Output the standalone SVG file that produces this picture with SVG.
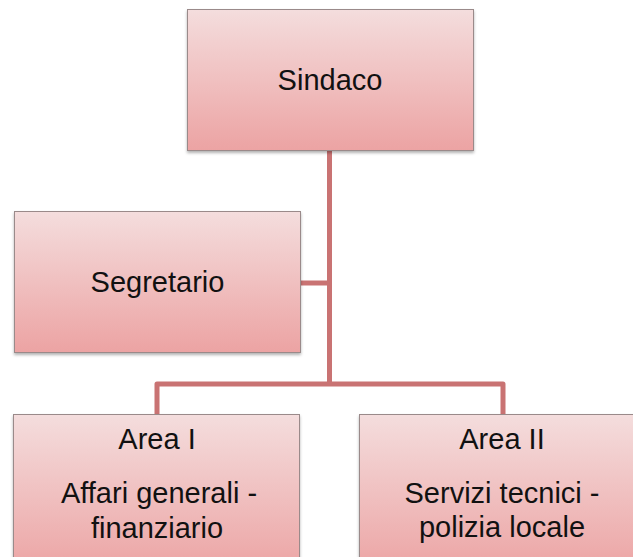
<svg xmlns="http://www.w3.org/2000/svg" width="633" height="557" viewBox="0 0 633 557">
<style>
.box{fill:url(#g);stroke:#9a8a8a;stroke-width:1;filter:url(#sh)}
.t{font-family:"Liberation Sans",Arial,sans-serif;font-size:29px;fill:#111;text-anchor:middle}
.c{fill:none;stroke:#c97373;stroke-width:5;stroke-linejoin:round}
</style>
<defs>
<linearGradient id="g" x1="0" y1="0" x2="0" y2="1">
<stop offset="0" stop-color="#f4dddd"/>
<stop offset="1" stop-color="#eca3a3"/>
</linearGradient>
<filter id="sh" x="-10%" y="-10%" width="120%" height="130%">
<feDropShadow dx="0" dy="2" stdDeviation="1.5" flood-color="#000" flood-opacity="0.3"/>
</filter>
</defs>
<g id="connectors">
<path class="c" d="M329.5 151 V384"/>
<path class="c" d="M300 283 H329.5"/>
<path class="c" d="M157 414 V384 H503 V414"/>
</g>
<g id="sindaco">
<rect class="box" x="187.5" y="9.5" width="286" height="141"/>
<text class="t" x="330" y="90">Sindaco</text>
</g>
<g id="segretario">
<rect class="box" x="14.5" y="211.5" width="286" height="141"/>
<text class="t" x="157.5" y="292">Segretario</text>
</g>
<g id="area1">
<rect class="box" x="13.5" y="414.5" width="286" height="160"/>
<text class="t" x="157" y="449">Area I</text>
<text class="t" x="159" y="503">Affari generali -</text>
<text class="t" x="157" y="538">finanziario</text>
</g>
<g id="area2">
<rect class="box" x="359.5" y="414.5" width="286" height="160"/>
<text class="t" x="502" y="449">Area II</text>
<text class="t" x="502" y="503">Servizi tecnici -</text>
<text class="t" x="502" y="537">polizia locale</text>
</g>
</svg>
